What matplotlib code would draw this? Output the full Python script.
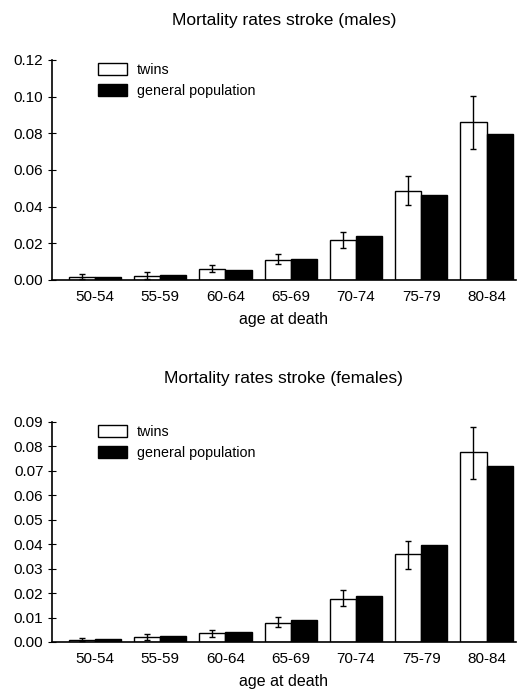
import numpy as np
import matplotlib
matplotlib.use("Agg")
import matplotlib.pyplot as plt

plt.rcParams['font.family'] = ['Liberation Sans', 'DejaVu Sans']

# Age groups
ages = ["50-54", "55-59", "60-64", "65-69", "70-74", "75-79", "80-84"]

# Males
male_twins = [0.0017, 0.0022, 0.0062, 0.0109, 0.0218, 0.0487, 0.0860]
male_twins_lo = [0.0006, 0.0008, 0.0045, 0.0086, 0.0176, 0.0409, 0.0713]
male_twins_hi = [0.0032, 0.0042, 0.0080, 0.0144, 0.0264, 0.0569, 0.1005]
male_gen = [0.0015, 0.0028, 0.0056, 0.0115, 0.0240, 0.0464, 0.0795]

# Females
female_twins = [0.0010, 0.0019, 0.0037, 0.0079, 0.0177, 0.0359, 0.0777]
female_twins_lo = [0.0005, 0.0008, 0.0022, 0.0060, 0.0146, 0.0300, 0.0667]
female_twins_hi = [0.0015, 0.0034, 0.0050, 0.0101, 0.0213, 0.0415, 0.0878]
female_gen = [0.0011, 0.0023, 0.0042, 0.0090, 0.0188, 0.0396, 0.0719]


def draw_panel(ax, twins, lo, hi, gen, title, ymax, yticks, fmt, tpad):
    x = np.arange(len(ages))
    w = 0.4
    yerr = [np.array(twins) - np.array(lo), np.array(hi) - np.array(twins)]
    ax.bar(x - w / 2, twins, w, color='white', edgecolor='black', linewidth=1.0,
           label='twins', zorder=2)
    ax.bar(x + w / 2, gen, w, color='black', edgecolor='black', linewidth=1.0,
           label='general population', zorder=2)
    ax.errorbar(x - w / 2, twins, yerr=yerr, fmt='none', ecolor='black',
                elinewidth=1.0, capsize=2.5, capthick=1.0, zorder=3)
    ax.set_xlim(-0.66, 6.45)
    ax.set_ylim(0, ymax)
    ax.set_yticks(yticks)
    ax.set_yticklabels([fmt.format(v) for v in yticks], fontsize=11)
    ax.set_xticks(x)
    ax.set_xticklabels(ages, fontsize=11)
    ax.tick_params(axis='x', length=0, pad=7)
    ax.tick_params(axis='y', direction='inout', length=6, width=0.8, pad=3)
    ax.spines['top'].set_visible(False)
    ax.spines['right'].set_visible(False)
    ax.spines['left'].set_linewidth(1.2)
    ax.spines['bottom'].set_linewidth(1.2)
    ax.set_xlabel('age at death', fontsize=11.5, labelpad=6)
    ax.set_title(title, fontsize=12.5, pad=tpad)
    ax.legend(loc='upper left', bbox_to_anchor=(0.1, 0.985), frameon=False,
              fontsize=10.3, handlelength=2.0, handleheight=0.9,
              borderaxespad=0, borderpad=0, labelspacing=0.45, handletextpad=0.7)


fig = plt.figure(figsize=(5.18, 6.93), dpi=100)
ax1 = fig.add_axes([0.100, 0.596, 0.896, 0.3175])
ax2 = fig.add_axes([0.100, 0.0736, 0.896, 0.3175])

draw_panel(ax1, male_twins, male_twins_lo, male_twins_hi, male_gen,
           'Mortality rates stroke (males)', 0.12,
           [0.0, 0.02, 0.04, 0.06, 0.08, 0.10, 0.12], '{:.2f}', 25)
draw_panel(ax2, female_twins, female_twins_lo, female_twins_hi, female_gen,
           'Mortality rates stroke (females)', 0.09,
           [0.0, 0.01, 0.02, 0.03, 0.04, 0.05, 0.06, 0.07, 0.08, 0.09], '{:.2f}', 28)

fig.savefig('out.png', dpi=100)
